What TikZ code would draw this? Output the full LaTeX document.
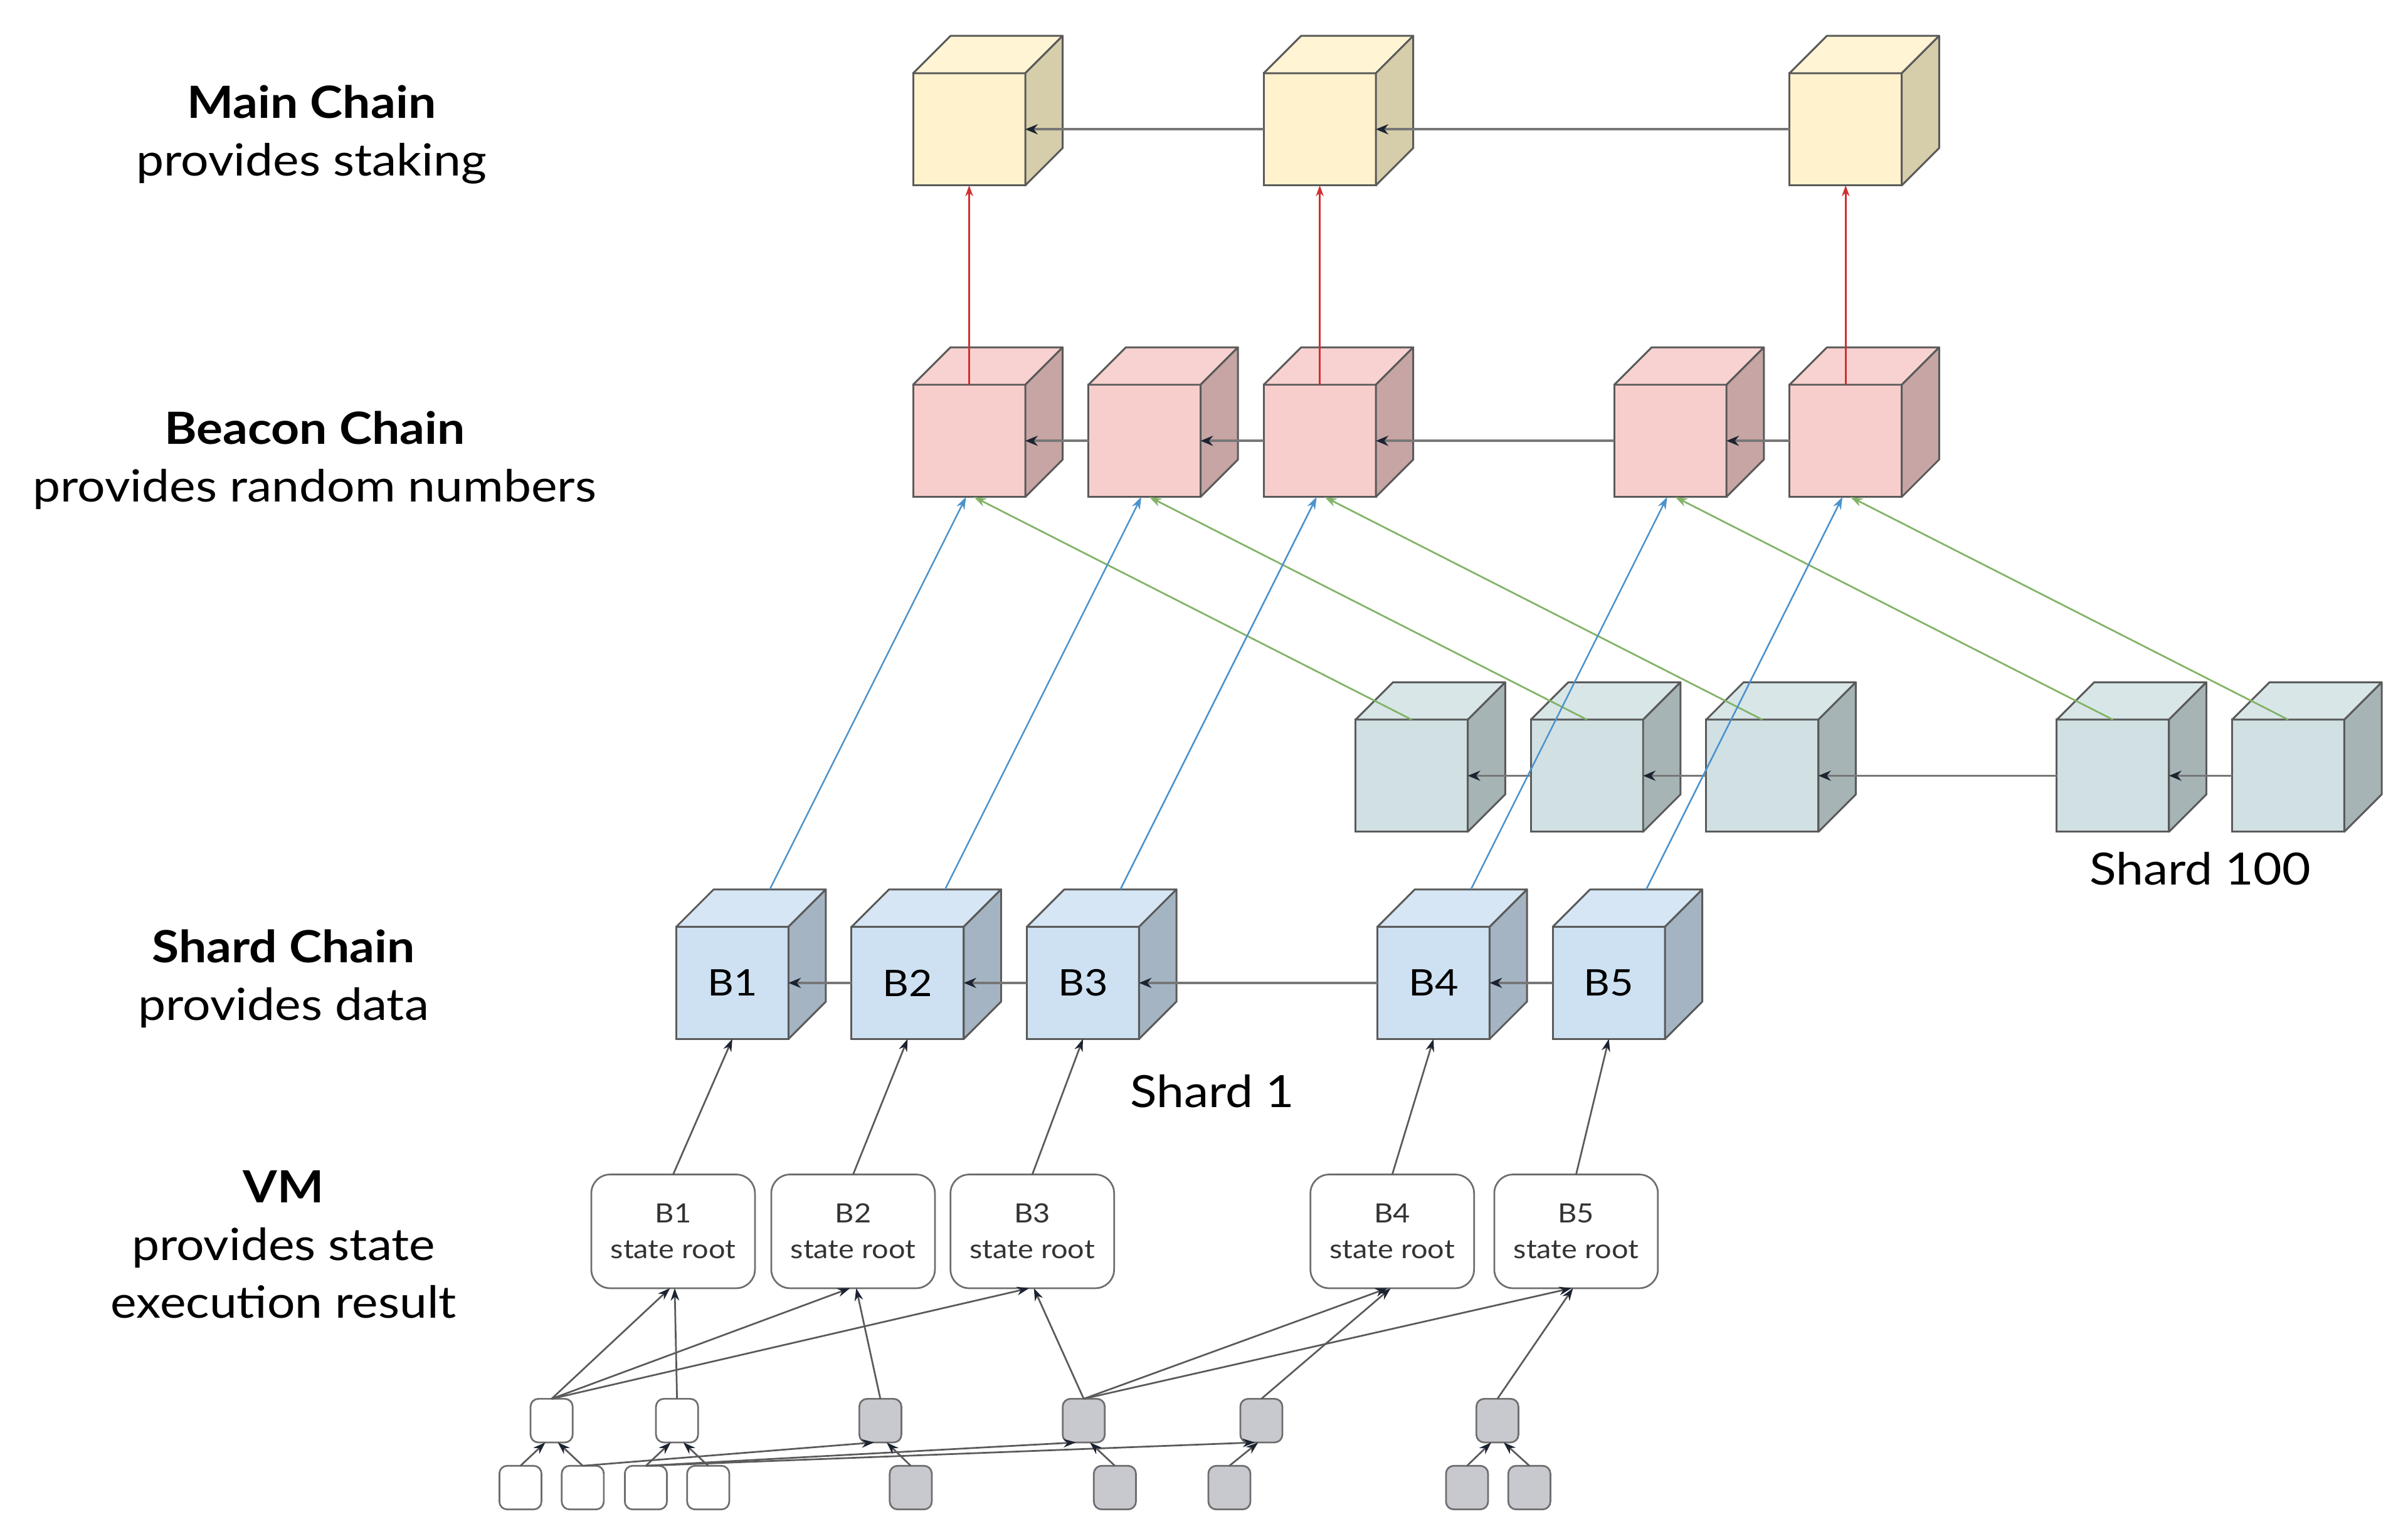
\documentclass[tikz,border=0pt]{standalone}
\usepackage{fontspec}
\setmainfont{Lato}[FakeStretch=1.11]
\usetikzlibrary{arrows.meta}
\definecolor{edgecol}{HTML}{5A5A5A}
\definecolor{Yfront}{HTML}{FFF2CC}
\definecolor{Ytop}{HTML}{FFF4D4}
\definecolor{Yside}{HTML}{D6CDAA}
\definecolor{Pfront}{HTML}{F8CECC}
\definecolor{Ptop}{HTML}{F8D2D0}
\definecolor{Pside}{HTML}{C6A5A4}
\definecolor{Gfront}{HTML}{D0E0E3}
\definecolor{Gtop}{HTML}{D8E6E8}
\definecolor{Gside}{HTML}{A7B4B6}
\definecolor{Bfront}{HTML}{CDE1F2}
\definecolor{Btop}{HTML}{D6E6F4}
\definecolor{Bside}{HTML}{A5B4C2}
\definecolor{chaingray}{HTML}{777777}
\definecolor{tipnavy}{HTML}{1C2331}
\definecolor{redcol}{HTML}{D03030}
\definecolor{bluecol}{HTML}{4A92CC}
\definecolor{greencol}{HTML}{82B366}
\definecolor{boxgray}{HTML}{6E6E6E}
\definecolor{linegray}{HTML}{5A5A5A}
\definecolor{nodegray}{HTML}{C8C9CF}
\definecolor{textgray}{HTML}{333333}
\newcommand{\mycube}[5]{%
  \node[cubefront, fill=#4front] (#1) at (#2,#3) {#5};
  \draw[cubeedge, fill=#4top] (#1.north west) -- ++(24,-24) -- ++(72,0) -- (#1.north east) -- cycle;
  \draw[cubeedge, fill=#4side] (#1.north east) -- ++(24,-24) -- ++(0,72) -- (#1.south east) -- cycle;
  \coordinate (#1-back) at ([shift={(24,-24)}]#1.north);
}
\tikzset{
  cubefront/.style={draw=edgecol, line width=1.2pt, minimum width=72pt, minimum height=72pt,
    inner sep=0pt, outer sep=0pt, font=\fontsize{23.5}{28}\selectfont, text=black},
  cubeedge/.style={draw=edgecol, line width=1.2pt, line join=round},
  chainarrow/.style={draw=chaingray, line width=1.5pt, -{Stealth[length=8pt,width=6.5pt,color=tipnavy]}},
  redarrow/.style={draw=redcol, line width=1pt, -{Stealth[length=7pt,width=5pt]}},
  bluearrow/.style={draw=bluecol, line width=1pt, -{Stealth[length=8pt,width=5.5pt]}},
  greenarrow/.style={draw=greencol, line width=1.1pt, -{Stealth[length=8pt,width=5.5pt]}},
  vmbox/.style={draw=boxgray, fill=white, rounded corners=12pt, minimum width=105pt, minimum height=73pt,
    inner sep=0pt, outer sep=0pt, align=center, font=\fontsize{17}{23}\selectfont, text=textgray, line width=1.1pt},
  smallnode/.style={draw=boxgray, rounded corners=5pt, minimum width=27pt, minimum height=28pt,
    inner sep=0pt, outer sep=0pt, line width=1.1pt},
  whitenode/.style={smallnode, fill=white},
  graynode/.style={smallnode, fill=nodegray},
  vmarrow/.style={draw=linegray, line width=1.1pt, -{Stealth[length=8pt,width=5.5pt,color=tipnavy]}},
  labbold/.style={anchor=base, font=\fontsize{28.5}{34}\selectfont\bfseries, text=black},
  labreg/.style={anchor=base, font=\fontsize{28.5}{34}\selectfont, text=black},
}
\begin{document}
\begin{tikzpicture}[x=1pt,y=-1pt]
\useasboundingbox[fill=white] (0,0) rectangle (1545.4,988);

% ---------- left labels ----------
\node[labbold] (tmain) at (200,76) {Main Chain};
\node[labreg] (tmain2) at (200,113) {provides staking};
\node[labbold] (tbeacon) at (202,285) {Beacon Chain};
\node[labreg] (tbeacon2) at (202,322) {provides random numbers};
\node[labbold] (tshard) at (182,618) {Shard Chain};
\node[labreg] (tshard2) at (182,655) {provides data};
\node[labbold] (tvm) at (182,772) {VM};
\node[labreg] (tvm2) at (182,809) {provides state};
\node[labreg] (tvm3) at (182,846) {execution result};
\node[labreg] (tsh100) at (1412,568) {Shard 100};
\node[labreg] (tsh1) at (778,711) {Shard 1};

% ---------- cubes ----------
\mycube{m1}{622}{83}{Y}{}
\mycube{m2}{847}{83}{Y}{}
\mycube{m3}{1184.5}{83}{Y}{}

\mycube{c1}{622}{283}{P}{}
\mycube{c2}{734.5}{283}{P}{}
\mycube{c3}{847}{283}{P}{}
\mycube{c4}{1072}{283}{P}{}
\mycube{c5}{1184.5}{283}{P}{}

\mycube{h1}{906}{498}{G}{}
\mycube{h2}{1018.5}{498}{G}{}
\mycube{h3}{1131}{498}{G}{}
\mycube{h4}{1356}{498}{G}{}
\mycube{h5}{1468.5}{498}{G}{}

\mycube{s1}{470}{631}{B}{B1}
\mycube{s2}{582.5}{631}{B}{B2}
\mycube{s3}{695}{631}{B}{B3}
\mycube{s4}{920}{631}{B}{B4}
\mycube{s5}{1032.5}{631}{B}{B5}

% ---------- chain arrows ----------
\draw[chainarrow] (m2.west) -- (m1.east);
\draw[chainarrow] (m3.west) -- (m2.east);
\draw[chainarrow] (c2.west) -- (c1.east);
\draw[chainarrow] (c3.west) -- (c2.east);
\draw[chainarrow] (c4.west) -- (c3.east);
\draw[chainarrow] (c5.west) -- (c4.east);
\draw[chainarrow] (h2.west) -- (h1.east);
\draw[chainarrow] (h3.west) -- (h2.east);
\draw[chainarrow] (h4.west) -- (h3.east);
\draw[chainarrow] (h5.west) -- (h4.east);
\draw[chainarrow] (s2.west) -- (s1.east);
\draw[chainarrow] (s3.west) -- (s2.east);
\draw[chainarrow] (s4.west) -- (s3.east);
\draw[chainarrow] (s5.west) -- (s4.east);

% ---------- beacon -> main ----------
\draw[redarrow] (c1.north) -- (m1.south);
\draw[redarrow] (c3.north) -- (m2.south);
\draw[redarrow] (c5.north) -- (m3.south);

% ---------- shard 100 -> beacon (green) ----------
\draw[greenarrow] (h1.north) -- ([xshift=3pt]c1.south);
\draw[greenarrow] (h2.north) -- ([xshift=3pt]c2.south);
\draw[greenarrow] (h3.north) -- ([xshift=3pt]c3.south);
\draw[greenarrow] (h4.north) -- ([xshift=3pt]c4.south);
\draw[greenarrow] (h5.north) -- ([xshift=3pt]c5.south);

% ---------- shard 1 -> beacon (blue) ----------
\draw[bluearrow] (s1-back) -- ([xshift=-2pt]c1.south);
\draw[bluearrow] (s2-back) -- ([xshift=-2pt]c2.south);
\draw[bluearrow] (s3-back) -- ([xshift=-2pt]c3.south);
\draw[bluearrow] (s4-back) -- ([xshift=-2pt]c4.south);
\draw[bluearrow] (s5-back) -- ([xshift=-2pt]c5.south);

% ---------- VM boxes ----------
\node[vmbox] (v1) at (432,790.5) {B1\\state root};
\node[vmbox] (v2) at (547.5,790.5) {B2\\state root};
\node[vmbox] (v3) at (662.5,790.5) {B3\\state root};
\node[vmbox] (v4) at (893.5,790.5) {B4\\state root};
\node[vmbox] (v5) at (1011.5,790.5) {B5\\state root};

\draw[vmarrow] (v1.north) -- (s1.south);
\draw[vmarrow] (v2.north) -- (s2.south);
\draw[vmarrow] (v3.north) -- (s3.south);
\draw[vmarrow] (v4.north) -- (s4.south);
\draw[vmarrow] (v5.north) -- (s5.south);

% ---------- small nodes ----------
\node[whitenode] (a1) at (354,912) {};
\node[whitenode] (a2) at (434.5,912) {};
\node[graynode] (a3) at (565,912) {};
\node[graynode] (a4) at (695.5,912) {};
\node[graynode] (a5) at (809.5,912) {};
\node[graynode] (a6) at (961,912) {};

\node[whitenode] (b1) at (334,955) {};
\node[whitenode] (b2) at (374,955) {};
\node[whitenode] (b3) at (414.5,955) {};
\node[whitenode] (b4) at (454.5,955) {};
\node[graynode] (b5) at (584.5,955) {};
\node[graynode] (b6) at (715.5,955) {};
\node[graynode] (b7) at (789,955) {};
\node[graynode] (b8) at (941.5,955) {};
\node[graynode] (b9) at (981.5,955) {};

% row 1 -> VM
\draw[vmarrow] (a1.north) -- ([xshift=-2pt]v1.south);
\draw[vmarrow] (a1.north) -- ([xshift=-2pt]v2.south);
\draw[vmarrow] (a1.north) -- ([xshift=-2pt]v3.south);
\draw[vmarrow] (a2.north) -- ([xshift=1pt]v1.south);
\draw[vmarrow] (a3.north) -- ([xshift=2pt]v2.south);
\draw[vmarrow] (a4.north) -- ([xshift=1pt]v3.south);
\draw[vmarrow] (a4.north) -- ([xshift=-3pt]v4.south);
\draw[vmarrow] (a4.north) -- ([xshift=-3pt]v5.south);
\draw[vmarrow] (a5.north) -- ([xshift=-1pt]v4.south);
\draw[vmarrow] (a6.north) -- ([xshift=-2pt]v5.south);

% row 2 -> row 1
\draw[vmarrow] (b1.north) -- ([xshift=-4pt]a1.south);
\draw[vmarrow] (b2.north) -- ([xshift=4pt]a1.south);
\draw[vmarrow] (b3.north) -- ([xshift=-4pt]a2.south);
\draw[vmarrow] (b4.north) -- ([xshift=4pt]a2.south);
\draw[vmarrow] (b2.north) -- ([xshift=-4pt]a3.south);
\draw[vmarrow] (b3.north) -- ([xshift=-5pt]a4.south);
\draw[vmarrow] (b3.north) -- ([xshift=-4pt]a5.south);
\draw[vmarrow] (b5.north) -- ([xshift=4pt]a3.south);
\draw[vmarrow] (b6.north) -- ([xshift=4pt]a4.south);
\draw[vmarrow] (b7.north) -- ([xshift=-2pt]a5.south);
\draw[vmarrow] (b8.north) -- ([xshift=-4pt]a6.south);
\draw[vmarrow] (b9.north) -- ([xshift=4pt]a6.south);
\end{tikzpicture}
\end{document}
